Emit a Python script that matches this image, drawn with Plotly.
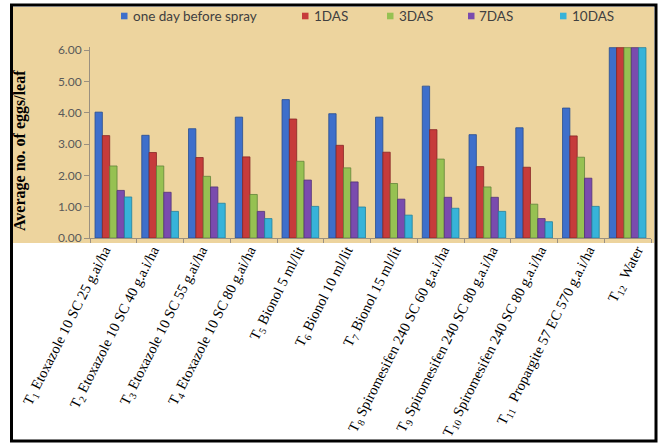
import plotly.graph_objects as go

# Treatments (x categories)
treatments = [
    "T<sub>1</sub> Etoxazole 10 SC 25 g.ai/ha",
    "T<sub>2</sub> Etoxazole 10 SC 40 g.a.i/ha",
    "T<sub>3</sub> Etoxazole 10 SC 55 g.ai/ha",
    "T<sub>4</sub> Etoxazole 10 SC 80 g.ai/ha",
    "T<sub>5</sub> Bionol 5 ml/lit",
    "T<sub>6</sub> Bionol 10 ml/lit",
    "T<sub>7</sub> Bionol 15 ml/lit",
    "T<sub>8</sub> Spiromesifen 240 SC 60 g.a.i/ha",
    "T<sub>9</sub> Spiromesifen 240 SC 80 g.a.i/ha",
    "T<sub>10</sub> Spiromesifen 240 SC 80 g.a.i/ha",
    "T<sub>11</sub>  Propargite 57 EC 570 g.a.i/ha",
    "T<sub>12</sub>  Water",
]

# Average no. of eggs per leaf for each observation time
before_spray = [4.02, 3.28, 3.49, 3.86, 4.42, 3.97, 3.86, 4.85, 3.30, 3.52, 4.15, 6.08]
das1 = [3.27, 2.73, 2.57, 2.59, 3.80, 2.96, 2.74, 3.46, 2.28, 2.26, 3.26, 6.08]
das3 = [2.30, 2.30, 1.97, 1.39, 2.45, 2.24, 1.74, 2.52, 1.63, 1.08, 2.58, 6.08]
das7 = [1.52, 1.46, 1.63, 0.85, 1.85, 1.79, 1.24, 1.30, 1.30, 0.62, 1.91, 6.08]
das10 = [1.31, 0.85, 1.11, 0.62, 1.01, 0.99, 0.73, 0.95, 0.85, 0.52, 1.01, 6.08]

series_names = ["one day before spray", "1DAS", "3DAS", "7DAS", "10DAS"]
series_values = [before_spray, das1, das3, das7, das10]
fill_colors = ["#3E6FCB", "#C63B3B", "#96C152", "#7A4BAE", "#37B3D9"]
edge_colors = ["#274C8F", "#862525", "#62843A", "#523277", "#23809C"]

y_ticks = [0, 1, 2, 3, 4, 5, 6]
y_tick_text = ["0.00", "1.00", "2.00", "3.00", "4.00", "5.00", "6.00"]

# Figure geometry (pixels)
W, H = 659, 444
ML, MR, MT, MB = 90, 8, 47, 206
PW, PH = W - ML - MR, H - MT - MB


def px_x(p):
    return (p - ML) / PW


def px_y(p):
    return (H - MB - p) / PH


fig = go.Figure()
for name, vals, fc, ec in zip(series_names, series_values, fill_colors, edge_colors):
    fig.add_trace(go.Bar(
        x=treatments, y=vals, name=name,
        marker=dict(color=fc, line=dict(color=ec, width=0.8)),
        showlegend=False,
    ))

# Label axis: treatment names are set on a slightly wider spacing than the bars
idx = list(range(len(treatments)))
fig.add_trace(go.Scatter(x=idx, y=[None] * len(idx), xaxis="x2", yaxis="y",
                         mode="markers", showlegend=False, hoverinfo="skip"))

shapes = [
    # parchment panel behind plot and legend
    dict(type="rect", xref="paper", yref="paper", layer="below",
         x0=px_x(12), x1=px_x(654), y0=px_y(243), y1=px_y(7),
         fillcolor="#EDD49E", line=dict(width=0)),
    # outer frame
    dict(type="rect", xref="paper", yref="paper", layer="above",
         x0=px_x(11.5), x1=px_x(656), y0=px_y(441), y1=px_y(5),
         fillcolor="rgba(0,0,0,0)", line=dict(color="black", width=3)),
]

annotations = [
    dict(text="<b>Average no. of eggs/leaf</b>", xref="paper", yref="paper",
         x=px_x(20), y=px_y(151), textangle=-90, showarrow=False,
         font=dict(family="Liberation Serif", size=16, color="black"),
         xanchor="center", yanchor="middle"),
]

# Legend row across the top
legend_square_x = [121, 302, 387, 468, 560]
legend_y = 16
for name, fc, sx in zip(series_names, fill_colors, legend_square_x):
    shapes.append(dict(type="rect", xref="paper", yref="paper",
                       x0=px_x(sx), x1=px_x(sx + 6.5),
                       y0=px_y(legend_y + 3.3), y1=px_y(legend_y - 3.3),
                       fillcolor=fc, line=dict(width=0)))
    annotations.append(dict(text=name, xref="paper", yref="paper",
                            x=px_x(sx + 9.5), y=px_y(legend_y), showarrow=False,
                            xanchor="left", yanchor="middle",
                            font=dict(family="Lato", size=13.5, color="#404040")))

# label spacing: first label at ~104 px, pitch ~48.4 px
label_pitch = 48.4
label_start = -(104.5 - ML) / label_pitch
label_end = label_start + PW / label_pitch

fig.update_layout(
    width=W, height=H,
    margin=dict(l=ML, r=MR, t=MT, b=MB, autoexpand=False),
    paper_bgcolor="white",
    plot_bgcolor="rgba(0,0,0,0)",
    barmode="group",
    bargap=0.215,
    bargroupgap=0.0,
    shapes=shapes,
    annotations=annotations,
    xaxis=dict(
        automargin=False,
        showticklabels=False,
        showline=True, linecolor="#9A9080", linewidth=1,
        ticks="outside", tickson="boundaries", ticklen=4, tickcolor="#9A9080",
        showgrid=False,
    ),
    xaxis2=dict(
        overlaying="x", anchor="y", side="bottom",
        automargin=False,
        range=[label_start, label_end],
        tickmode="array", tickvals=idx, ticktext=treatments,
        tickangle=-63,
        tickfont=dict(family="Liberation Serif", size=14.5, color="black"),
        showline=False, ticks="", showgrid=False, zeroline=False,
    ),
    yaxis=dict(
        automargin=False,
        range=[0, 6.1],
        tickvals=y_ticks, ticktext=y_tick_text,
        tickfont=dict(family="Lato", size=12, color="#595959"),
        showline=True, linecolor="#9A9080", linewidth=1,
        ticks="outside", ticklen=5, tickcolor="#9A9080",
        showgrid=False, zeroline=False,
    ),
)

fig.write_html("out.html")
